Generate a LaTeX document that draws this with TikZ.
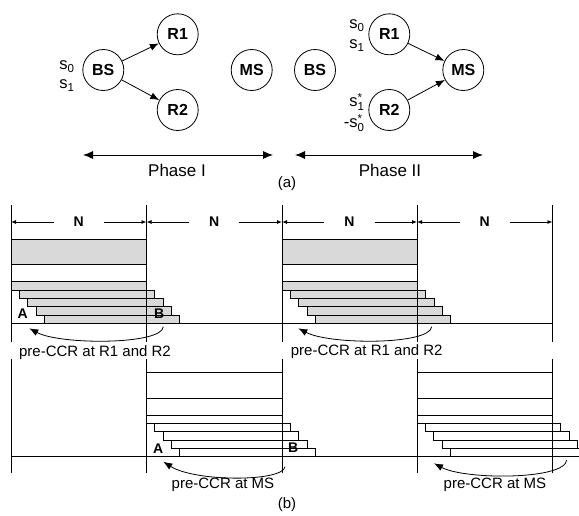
\documentclass[tikz,border=0pt]{standalone}
\usepackage{fontspec}
\setmainfont{Liberation Sans}
\usetikzlibrary{arrows.meta}
\tikzset{
  stn/.style={circle,draw,line width=0.8pt,minimum size=41pt,inner sep=0pt,font=\fontsize{16}{18}\selectfont\bfseries},
  sig/.style={font=\fontsize{16.5}{19}\selectfont,inner sep=0pt},
  link/.style={-{Latex[length=9pt,width=7pt]},line width=0.8pt},
  phase/.style={{Latex[length=10pt,width=8pt]}-{Latex[length=10pt,width=8pt]},line width=0.9pt},
  txt/.style={font=\fontsize{15}{17}\selectfont,inner sep=0pt},
  frm/.style={line width=0.8pt},
  gbar/.style={draw,line width=0.8pt,fill=gray!30},
  wbar/.style={draw,line width=0.8pt},
  dimarr/.style={-{Latex[length=5pt,width=4pt]},line width=0.8pt},
  nlbl/.style={font=\fontsize{14}{16}\selectfont\bfseries,minimum width=50pt,inner sep=0pt},
  ab/.style={font=\fontsize{14}{16}\selectfont\bfseries,inner sep=0pt},
  ccr/.style={-{Latex[length=9pt,width=7pt]},line width=0.8pt}
}
\newcommand\smsz{\fontsize{11.5}{12}\selectfont}
\newcommand\sconj[1]{s\rlap{\raisebox{4.5pt}{\smsz *}}\raisebox{-4pt}{\smsz #1}}
\begin{document}
\begin{tikzpicture}[x=1pt,y=-1pt]
   \clip (0,0) rectangle (579,515);
   % (a) phase I
   \node[stn] (bsI) at (103.3,70) {BS};
   \node[stn] (rI1) at (177.7,34.3) {R1};
   \node[stn] (rI2) at (177.7,110) {R2};
   \node[stn] (msI) at (251.7,70) {MS};
   \node[sig,align=left] (sI) at (67,76) {s\textsubscript{0}\\s\textsubscript{1}};
   \draw[link] (bsI) -- (rI1);
   \draw[link] (bsI) -- (rI2);
   % (a) phase II
   \node[stn] (bsII) at (315,70) {BS};
   \node[stn] (rII1) at (389.3,34.3) {R1};
   \node[stn] (rII2) at (389.3,110) {R2};
   \node[stn] (msII) at (463.3,70) {MS};
   \node[sig,align=left] (sII1) at (357,35.5) {s\textsubscript{0}\\[1pt]s\textsubscript{1}};
   \node[sig,align=right] (sII2) at (354,112.5) {\sconj{1}\\[2pt]-\sconj{0}};
   \draw[link] (rII1) -- (msII);
   \draw[link] (rII2) -- (msII);
   \coordinate (pIa) at (83,155);
   \coordinate (pIb) at (273,155);
   \coordinate (pIIa) at (295,155);
   \coordinate (pIIb) at (483,155);
   \draw[phase] (pIa) -- (pIb);
   \draw[phase] (pIIa) -- (pIIb);
   \node[txt,font=\fontsize{17}{19}\selectfont] (phI) at (177,170) {Phase I};
   \node[txt,font=\fontsize{17}{19}\selectfont] (phII) at (390,170) {Phase II};
   \node[txt] (capa) at (287,184) {(a)};
   % (b) relays
   \foreach \x in {11,282} {
     \draw[gbar] (\x,239.3) rectangle +(135.5,25);
     \foreach \k in {0,...,4}
       \draw[gbar] ({\x+\k*8.33},{281.7+\k*8.33}) rectangle +(135.5,8.33);
   }
   \foreach \x in {11,146.5,282,417,552.5}
     \draw[frm] (\x,205) -- (\x,342);
   \draw[frm] (11,323.3) -- (552.5,323.3);
   \foreach \i/\a/\b in {1/11/146.5, 2/146.5/282, 3/282/417, 4/417/552.5} {
     \node[nlbl] (n\i) at ({(\a+\b)/2},222) {N};
     \draw[dimarr] (n\i) -- (\a,222);
     \draw[dimarr] (n\i) -- (\b,222);
   }
   \node[ab] (a1) at (22.7,313.3) {A};
   \node[ab] (b1) at (159.3,313.3) {B};
   \coordinate (c1s) at (163.3,326.7);
   \coordinate (c1e) at (29.3,328.3);
   \coordinate (c2s) at (431.7,326.7);
   \coordinate (c2e) at (298.3,328.3);
   \draw[ccr] (c1s) .. controls (162,345) and (60,345) .. (c1e);
   \draw[ccr] (c2s) .. controls (430,345) and (330,345) .. (c2e);
   \node[txt] (l1) at (95,353) {pre-CCR at R1 and R2};
   \node[txt] (l2) at (366.7,352) {pre-CCR at R1 and R2};
   % (b) mobile station
   \foreach \x in {146.5,417} {
     \draw[wbar] (\x,372.7) rectangle +(135.5,25.6);
     \foreach \k in {0,...,4}
       \draw[wbar] ({\x+\k*8.33},{415+\k*8.33}) rectangle +(135.5,8.33);
   }
   \foreach \x in {11,146.5,282,417,552.5}
     \draw[frm] (\x,359) -- (\x,473);
   \draw[frm] (11,456.7) -- (579,456.7);
   \node[ab] (a2) at (158.3,448.3) {A};
   \node[ab] (b2) at (293.3,447.3) {B};
   \coordinate (c3s) at (285,466.7);
   \coordinate (c3e) at (163.3,461.7);
   \coordinate (c4s) at (566.7,460);
   \coordinate (c4e) at (434,463.3);
   \draw[ccr] (c3s) .. controls (283,482) and (195,482) .. (c3e);
   \draw[ccr] (c4s) .. controls (565,480) and (465,480) .. (c4e);
   \node[txt] (l3) at (223,485) {pre-CCR at MS};
   \node[txt] (l4) at (495,485) {pre-CCR at MS};
   \node[txt] (capb) at (287,505) {(b)};
\end{tikzpicture}
\end{document}
